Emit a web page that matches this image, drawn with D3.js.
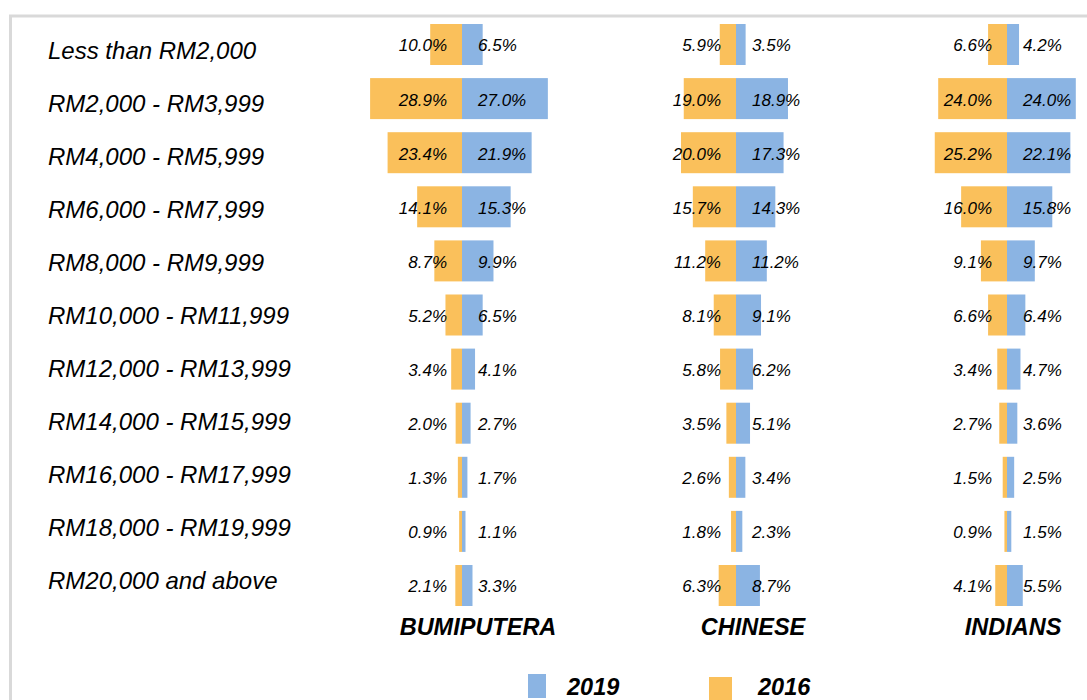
<!DOCTYPE html>
<html>
<head>
<meta charset="utf-8">
<script src="https://cdn.jsdelivr.net/npm/d3@7"></script>
<style>
  html, body { margin: 0; padding: 0; background: #fff; }
  svg { display: block; }
  text { font-family: "Liberation Sans", Arial, sans-serif; }
</style>
</head>
<body>
<svg id="chart" width="1087" height="700"></svg>
<script>
// Household income brackets (rows, top to bottom)
const categories = [
  "Less than RM2,000",
  "RM2,000 - RM3,999",
  "RM4,000 - RM5,999",
  "RM6,000 - RM7,999",
  "RM8,000 - RM9,999",
  "RM10,000 - RM11,999",
  "RM12,000 - RM13,999",
  "RM14,000 - RM15,999",
  "RM16,000 - RM17,999",
  "RM18,000 - RM19,999",
  "RM20,000 and above"
];

const groups = ["BUMIPUTERA", "CHINESE", "INDIANS"];
const years = ["2019", "2016"];

// Share of households (%) per income bracket
const bumiputera2016 = [10.0, 28.9, 23.4, 14.1, 8.7, 5.2, 3.4, 2.0, 1.3, 0.9, 2.1];
const bumiputera2019 = [6.5, 27.0, 21.9, 15.3, 9.9, 6.5, 4.1, 2.7, 1.7, 1.1, 3.3];
const chinese2016    = [5.9, 19.0, 20.0, 15.7, 11.2, 8.1, 5.8, 3.5, 2.6, 1.8, 6.3];
const chinese2019    = [3.5, 18.9, 17.3, 14.3, 11.2, 9.1, 6.2, 5.1, 3.4, 2.3, 8.7];
const indians2016    = [6.6, 24.0, 25.2, 16.0, 9.1, 6.6, 3.4, 2.7, 1.5, 0.9, 4.1];
const indians2019    = [4.2, 24.0, 22.1, 15.8, 9.7, 6.4, 4.7, 3.6, 2.5, 1.5, 5.5];

const colors = { "2019": "#8BB4E3", "2016": "#FAC05B" };

// Panel layout: centre line of each butterfly, half-width for 30%, title x
const panels = [
  { name: groups[0], v2016: bumiputera2016, v2019: bumiputera2019, cx: 462, half: 95.4, titleX: 478 },
  { name: groups[1], v2016: chinese2016,    v2019: chinese2019,    cx: 736, half: 82.5, titleX: 753 },
  { name: groups[2], v2016: indians2016,    v2019: indians2019,    cx: 1007, half: 86.0, titleX: 1013 }
];

const svg = d3.select("#chart");

// Frame lines
svg.append("path")
  .attr("d", "M10.5,700 V16 H1087")
  .attr("fill", "none")
  .attr("stroke", "#d9d9d9")
  .attr("stroke-width", 3);

// Row positions
const yBar = d3.scalePoint().domain(categories).range([44.5, 585.5]);
const yLabel = d3.scalePoint().domain(categories).range([51, 581]);
const barH = 41;

// Category labels
svg.append("g")
  .selectAll("text")
  .data(categories)
  .join("text")
  .attr("x", 48)
  .attr("y", d => yLabel(d))
  .attr("dy", "0.35em")
  .attr("font-size", 24)
  .attr("font-style", "italic")
  .attr("fill", "#000")
  .text(d => d);

const fmt = v => v.toFixed(1) + "%";

panels.forEach(p => {
  const x = d3.scaleLinear().domain([0, 30]).range([0, p.half]);
  const g = svg.append("g");

  const rows = categories.map((c, i) => ({ c, a: p.v2016[i], b: p.v2019[i] }));

  // 2016 bars extend left of the centre line
  g.selectAll("rect.y2016")
    .data(rows)
    .join("rect")
    .attr("class", "y2016")
    .attr("x", d => p.cx - x(d.a))
    .attr("y", d => yBar(d.c) - barH / 2)
    .attr("width", d => x(d.a))
    .attr("height", barH)
    .attr("fill", colors["2016"]);

  // 2019 bars extend right of the centre line
  g.selectAll("rect.y2019")
    .data(rows)
    .join("rect")
    .attr("class", "y2019")
    .attr("x", p.cx)
    .attr("y", d => yBar(d.c) - barH / 2)
    .attr("width", d => x(d.b))
    .attr("height", barH)
    .attr("fill", colors["2019"]);

  // Value labels
  g.selectAll("text.l2016")
    .data(rows)
    .join("text")
    .attr("class", "l2016")
    .attr("x", p.cx - 15)
    .attr("y", d => yBar(d.c) + 1)
    .attr("dy", "0.35em")
    .attr("text-anchor", "end")
    .attr("font-size", 17)
    .attr("font-style", "italic")
    .attr("fill", "#000")
    .text(d => fmt(d.a));

  g.selectAll("text.l2019")
    .data(rows)
    .join("text")
    .attr("class", "l2019")
    .attr("x", p.cx + 16)
    .attr("y", d => yBar(d.c) + 1)
    .attr("dy", "0.35em")
    .attr("text-anchor", "start")
    .attr("font-size", 17)
    .attr("font-style", "italic")
    .attr("fill", "#000")
    .text(d => fmt(d.b));

  // Group title
  g.append("text")
    .attr("x", p.titleX)
    .attr("y", 635)
    .attr("text-anchor", "middle")
    .attr("font-size", 23.5)
    .attr("font-weight", "bold")
    .attr("font-style", "italic")
    .attr("fill", "#000")
    .text(p.name);
});

// Legend
const legend = [
  { year: years[0], sx: 528, sy: 674, sw: 18, sh: 24, tx: 567 },
  { year: years[1], sx: 709, sy: 677, sw: 23, sh: 23, tx: 758 }
];
const lg = svg.append("g");
lg.selectAll("rect")
  .data(legend)
  .join("rect")
  .attr("x", d => d.sx)
  .attr("y", d => d.sy)
  .attr("width", d => d.sw)
  .attr("height", d => d.sh)
  .attr("fill", d => colors[d.year]);
lg.selectAll("text")
  .data(legend)
  .join("text")
  .attr("x", d => d.tx)
  .attr("y", 695)
  .attr("font-size", 23.5)
  .attr("font-weight", "bold")
  .attr("font-style", "italic")
  .attr("fill", "#000")
  .text(d => d.year);
</script>
</body>
</html>
